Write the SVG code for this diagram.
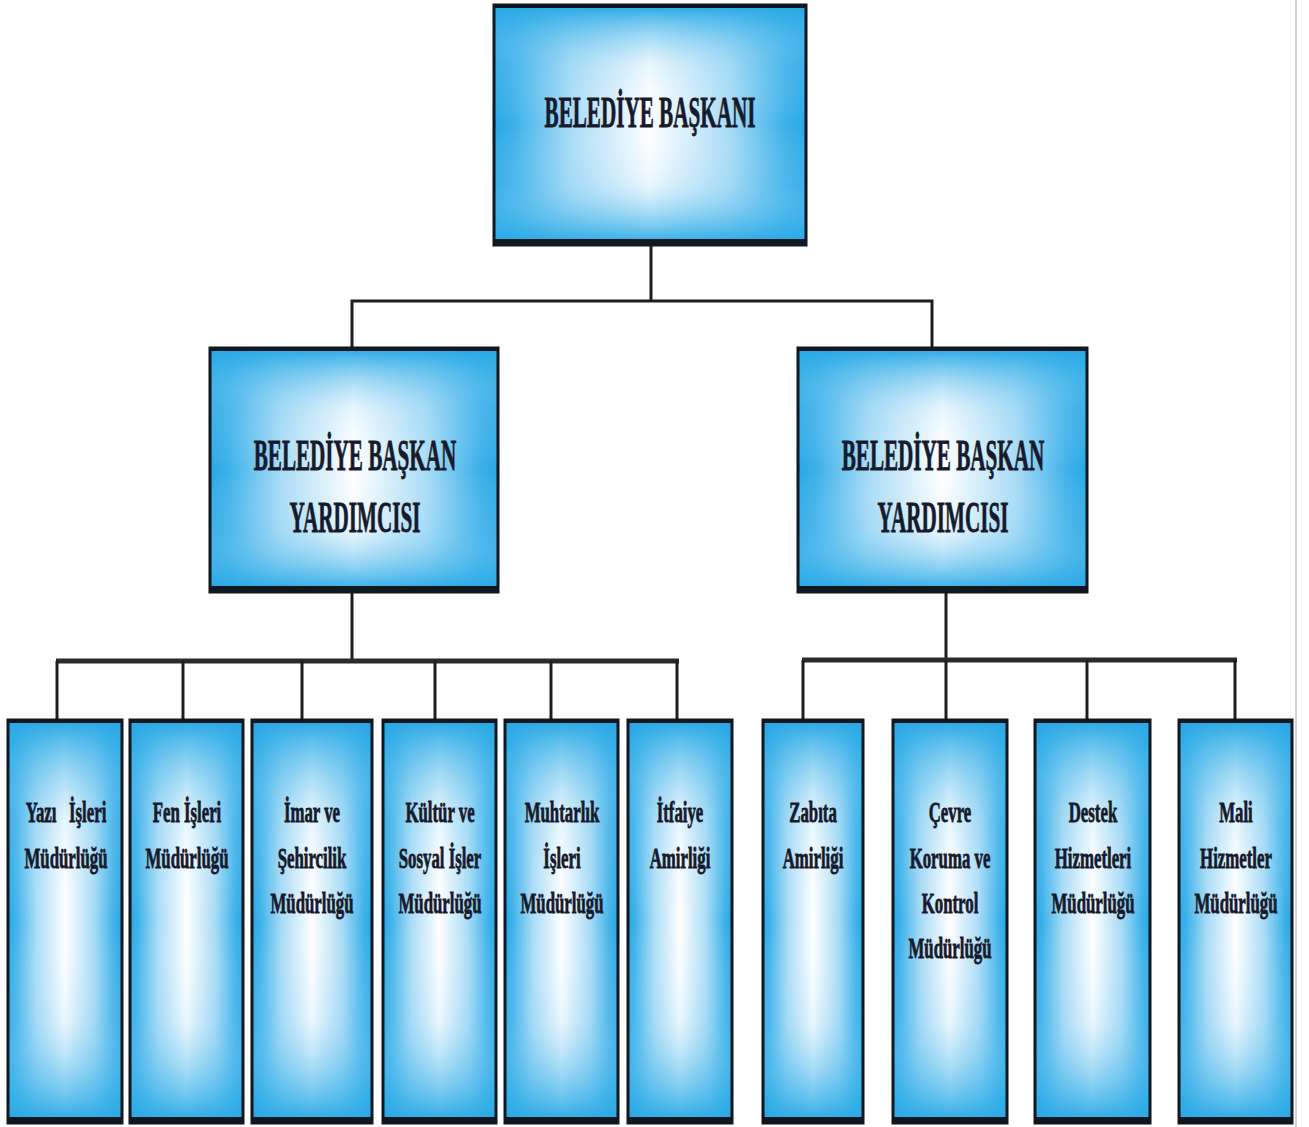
<svg xmlns="http://www.w3.org/2000/svg" width="1309" height="1127" viewBox="0 0 1309 1127">
  <style>
    .bg { fill: #ffffff; }
    .base { fill: url(#gh); }
    .over { fill: url(#gv); }
    .frame { fill: none; stroke: #0f1720; stroke-width: 3; }
    .edge { stroke: #0f1720; stroke-linecap: butt; }
    .lbl { font-family: "Liberation Serif", "Times New Roman", serif; font-weight: bold; fill: #161a2c; stroke: #161a2c; stroke-width: 0.8; text-anchor: middle; }
    .big { font-size: 45px; }
    .small { font-size: 30px; }
    .wire { fill: none; stroke: #1e1e1e; stroke-width: 3; }
    .bus { fill: none; stroke: #2a2a2a; stroke-width: 5; }
  </style>
  <defs>
    <linearGradient id="gh" x1="0" y1="0" x2="1" y2="0">
      <stop offset="0" stop-color="#27a6e4"/>
      <stop offset="0.07" stop-color="#3db2ea"/>
      <stop offset="0.25" stop-color="#a9dcf6"/>
      <stop offset="0.5" stop-color="#ffffff"/>
      <stop offset="0.75" stop-color="#a9dcf6"/>
      <stop offset="0.93" stop-color="#3db2ea"/>
      <stop offset="1" stop-color="#27a6e4"/>
    </linearGradient>
    <linearGradient id="gv" x1="0" y1="0" x2="0" y2="1">
      <stop offset="0" stop-color="#27a6e4" stop-opacity="1"/>
      <stop offset="0.06" stop-color="#35afe8" stop-opacity="0.75"/>
      <stop offset="0.25" stop-color="#8fd2f4" stop-opacity="0.2"/>
      <stop offset="0.5" stop-color="#ffffff" stop-opacity="0"/>
      <stop offset="0.75" stop-color="#8fd2f4" stop-opacity="0.2"/>
      <stop offset="0.94" stop-color="#35afe8" stop-opacity="0.75"/>
      <stop offset="1" stop-color="#27a6e4" stop-opacity="1"/>
    </linearGradient>
  </defs>

  <rect class="bg" x="0" y="0" width="1309" height="1127"/>
  <line x1="1296" y1="0" x2="1296" y2="1127" stroke="#d4d4d4" stroke-width="2"/>

  <g id="connectors">
    <polyline class="wire" points="651,245 651,301"/>
    <polyline class="wire" points="352,348 352,301 932,301 932,348"/>
    <polyline class="wire" points="352,592 352,660"/>
    <line class="bus" x1="56" y1="661" x2="679" y2="661"/>
    <polyline class="wire" points="57,661 57,720"/>
    <polyline class="wire" points="183,661 183,720"/>
    <polyline class="wire" points="302,661 302,720"/>
    <polyline class="wire" points="435,661 435,720"/>
    <polyline class="wire" points="551,661 551,720"/>
    <polyline class="wire" points="677,661 677,720"/>
    <polyline class="wire" points="946,592 946,660"/>
    <line class="bus" x1="802" y1="660" x2="1237" y2="660"/>
    <polyline class="wire" points="803,660 803,720"/>
    <polyline class="wire" points="946,660 946,720"/>
    <polyline class="wire" points="1087,660 1087,720"/>
    <polyline class="wire" points="1235,660 1235,720"/>
  </g>

  <g id="baskan">
    <rect class="base" x="494" y="5" width="312" height="240"/>
    <rect class="over" x="494" y="5" width="312" height="240"/>
    <rect class="frame" x="494" y="5" width="312" height="240"/>
    <line class="edge" x1="493" y1="6" x2="807" y2="6" stroke-width="4"/>
    <line class="edge" x1="493" y1="242" x2="807" y2="242" stroke-width="6"/>
    <text class="lbl big" transform="translate(650 127) scale(0.47 1)">BELEDİYE BAŞKANI</text>
  </g>

  <g id="yardimci-1">
    <rect class="base" x="210" y="348" width="288" height="244"/>
    <rect class="over" x="210" y="348" width="288" height="244"/>
    <rect class="frame" x="210" y="348" width="288" height="244"/>
    <line class="edge" x1="209" y1="349" x2="499" y2="349" stroke-width="4"/>
    <line class="edge" x1="209" y1="589" x2="499" y2="589" stroke-width="6"/>
    <text class="lbl big" transform="translate(355 470) scale(0.47 1)"><tspan x="0">BELEDİYE BAŞKAN</tspan><tspan x="0" dy="62">YARDIMCISI</tspan></text>
  </g>

  <g id="yardimci-2">
    <rect class="base" x="798" y="348" width="289" height="244"/>
    <rect class="over" x="798" y="348" width="289" height="244"/>
    <rect class="frame" x="798" y="348" width="289" height="244"/>
    <line class="edge" x1="797" y1="349" x2="1088" y2="349" stroke-width="4"/>
    <line class="edge" x1="797" y1="589" x2="1088" y2="589" stroke-width="6"/>
    <text class="lbl big" transform="translate(943 470) scale(0.47 1)"><tspan x="0">BELEDİYE BAŞKAN</tspan><tspan x="0" dy="62">YARDIMCISI</tspan></text>
  </g>

  <g id="yazi-isleri">
    <rect class="base" x="8" y="720" width="114" height="403"/>
    <rect class="over" x="8" y="720" width="114" height="403"/>
    <rect class="frame" x="8" y="720" width="114" height="403"/>
    <line class="edge" x1="7" y1="721" x2="123" y2="721" stroke-width="4"/>
    <line class="edge" x1="7" y1="1120" x2="123" y2="1120" stroke-width="6"/>
    <text class="lbl small" xml:space="preserve" transform="translate(66 822) scale(0.56 1)"><tspan x="0">Yazı   İşleri</tspan><tspan x="0" dy="46">Müdürlüğü</tspan></text>
  </g>

  <g id="fen-isleri">
    <rect class="base" x="130" y="720" width="113" height="403"/>
    <rect class="over" x="130" y="720" width="113" height="403"/>
    <rect class="frame" x="130" y="720" width="113" height="403"/>
    <line class="edge" x1="129" y1="721" x2="244" y2="721" stroke-width="4"/>
    <line class="edge" x1="129" y1="1120" x2="244" y2="1120" stroke-width="6"/>
    <text class="lbl small" transform="translate(187 822) scale(0.56 1)"><tspan x="0">Fen İşleri</tspan><tspan x="0" dy="46">Müdürlüğü</tspan></text>
  </g>

  <g id="imar">
    <rect class="base" x="252" y="720" width="120" height="403"/>
    <rect class="over" x="252" y="720" width="120" height="403"/>
    <rect class="frame" x="252" y="720" width="120" height="403"/>
    <line class="edge" x1="251" y1="721" x2="373" y2="721" stroke-width="4"/>
    <line class="edge" x1="251" y1="1120" x2="373" y2="1120" stroke-width="6"/>
    <text class="lbl small" transform="translate(312 822) scale(0.56 1)"><tspan x="0">İmar ve</tspan><tspan x="0" dy="46">Şehircilik</tspan><tspan x="0" dy="45">Müdürlüğü</tspan></text>
  </g>

  <g id="kultur">
    <rect class="base" x="383" y="720" width="113" height="403"/>
    <rect class="over" x="383" y="720" width="113" height="403"/>
    <rect class="frame" x="383" y="720" width="113" height="403"/>
    <line class="edge" x1="382" y1="721" x2="497" y2="721" stroke-width="4"/>
    <line class="edge" x1="382" y1="1120" x2="497" y2="1120" stroke-width="6"/>
    <text class="lbl small" transform="translate(440 822) scale(0.56 1)"><tspan x="0">Kültür ve</tspan><tspan x="0" dy="46">Sosyal İşler</tspan><tspan x="0" dy="45">Müdürlüğü</tspan></text>
  </g>

  <g id="muhtarlik">
    <rect class="base" x="505" y="720" width="113" height="403"/>
    <rect class="over" x="505" y="720" width="113" height="403"/>
    <rect class="frame" x="505" y="720" width="113" height="403"/>
    <line class="edge" x1="504" y1="721" x2="619" y2="721" stroke-width="4"/>
    <line class="edge" x1="504" y1="1120" x2="619" y2="1120" stroke-width="6"/>
    <text class="lbl small" transform="translate(562 822) scale(0.56 1)"><tspan x="0">Muhtarlık</tspan><tspan x="0" dy="46">İşleri</tspan><tspan x="0" dy="45">Müdürlüğü</tspan></text>
  </g>

  <g id="itfaiye">
    <rect class="base" x="628" y="720" width="104" height="403"/>
    <rect class="over" x="628" y="720" width="104" height="403"/>
    <rect class="frame" x="628" y="720" width="104" height="403"/>
    <line class="edge" x1="627" y1="721" x2="733" y2="721" stroke-width="4"/>
    <line class="edge" x1="627" y1="1120" x2="733" y2="1120" stroke-width="6"/>
    <text class="lbl small" transform="translate(680 822) scale(0.56 1)"><tspan x="0">İtfaiye</tspan><tspan x="0" dy="46">Amirliği</tspan></text>
  </g>

  <g id="zabita">
    <rect class="base" x="763" y="720" width="100" height="403"/>
    <rect class="over" x="763" y="720" width="100" height="403"/>
    <rect class="frame" x="763" y="720" width="100" height="403"/>
    <line class="edge" x1="762" y1="721" x2="864" y2="721" stroke-width="4"/>
    <line class="edge" x1="762" y1="1120" x2="864" y2="1120" stroke-width="6"/>
    <text class="lbl small" transform="translate(813 822) scale(0.56 1)"><tspan x="0">Zabıta</tspan><tspan x="0" dy="46">Amirliği</tspan></text>
  </g>

  <g id="cevre">
    <rect class="base" x="893" y="720" width="114" height="403"/>
    <rect class="over" x="893" y="720" width="114" height="403"/>
    <rect class="frame" x="893" y="720" width="114" height="403"/>
    <line class="edge" x1="892" y1="721" x2="1008" y2="721" stroke-width="4"/>
    <line class="edge" x1="892" y1="1120" x2="1008" y2="1120" stroke-width="6"/>
    <text class="lbl small" transform="translate(950 822) scale(0.56 1)"><tspan x="0">Çevre</tspan><tspan x="0" dy="46">Koruma ve</tspan><tspan x="0" dy="45">Kontrol</tspan><tspan x="0" dy="45">Müdürlüğü</tspan></text>
  </g>

  <g id="destek">
    <rect class="base" x="1035" y="720" width="115" height="403"/>
    <rect class="over" x="1035" y="720" width="115" height="403"/>
    <rect class="frame" x="1035" y="720" width="115" height="403"/>
    <line class="edge" x1="1034" y1="721" x2="1151" y2="721" stroke-width="4"/>
    <line class="edge" x1="1034" y1="1120" x2="1151" y2="1120" stroke-width="6"/>
    <text class="lbl small" transform="translate(1093 822) scale(0.56 1)"><tspan x="0">Destek</tspan><tspan x="0" dy="46">Hizmetleri</tspan><tspan x="0" dy="45">Müdürlüğü</tspan></text>
  </g>

  <g id="mali">
    <rect class="base" x="1179" y="720" width="113" height="403"/>
    <rect class="over" x="1179" y="720" width="113" height="403"/>
    <rect class="frame" x="1179" y="720" width="113" height="403"/>
    <line class="edge" x1="1178" y1="721" x2="1293" y2="721" stroke-width="4"/>
    <line class="edge" x1="1178" y1="1120" x2="1293" y2="1120" stroke-width="6"/>
    <text class="lbl small" transform="translate(1236 822) scale(0.56 1)"><tspan x="0">Mali</tspan><tspan x="0" dy="46">Hizmetler</tspan><tspan x="0" dy="45">Müdürlüğü</tspan></text>
  </g>
</svg>
